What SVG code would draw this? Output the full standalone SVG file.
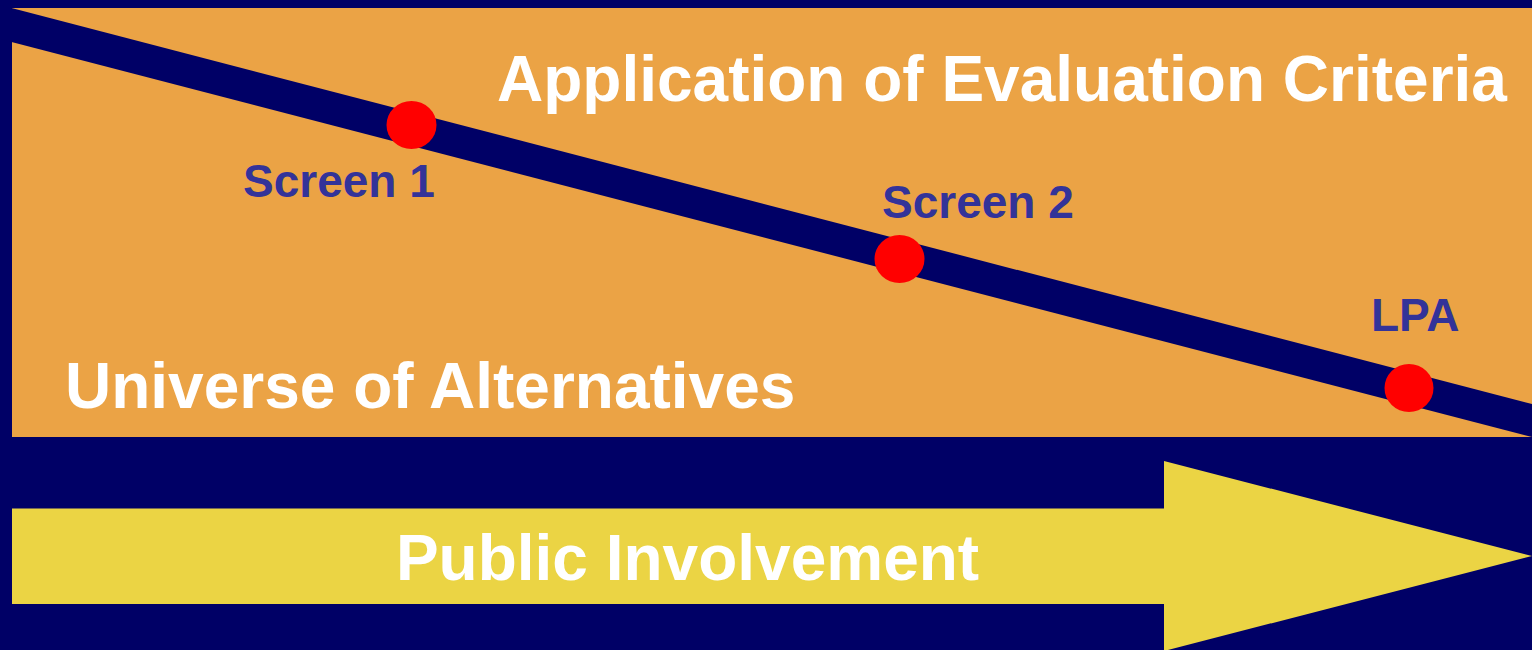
<svg xmlns="http://www.w3.org/2000/svg" width="1532" height="650" viewBox="0 0 1532 650">
  <style>
    .big { font-family: "Liberation Sans", Arial, sans-serif; font-weight: bold; font-size: 64px; fill: #ffffff; }
    .lbl { font-family: "Liberation Sans", Arial, sans-serif; font-weight: bold; font-size: 46px; fill: #333399; }
    .dot { fill: #ff0000; }
  </style>
  <rect x="0" y="0" width="1532" height="650" fill="#000066"/>
  <g id="field">
    <rect x="12" y="8" width="1520" height="429" fill="#eba345"/>
  </g>
  <g id="connectors">
    <polygon points="0,5 1532,404 1532,437 0,39" fill="#000066"/>
  </g>
  <g id="title-criteria">
    <text class="big" x="497" y="101">Application of Evaluation Criteria</text>
  </g>
  <g id="title-universe">
    <text class="big" x="65" y="408">Universe of Alternatives</text>
  </g>
  <g id="screen1">
    <ellipse class="dot" cx="411.5" cy="125" rx="25" ry="24"/>
    <text class="lbl" x="243" y="197">Screen 1</text>
  </g>
  <g id="screen2">
    <ellipse class="dot" cx="899.5" cy="259" rx="25" ry="24"/>
    <text class="lbl" x="882" y="218">Screen 2</text>
  </g>
  <g id="lpa">
    <ellipse class="dot" cx="1409" cy="388" rx="24.5" ry="24"/>
    <text class="lbl" x="1371" y="331">LPA</text>
  </g>
  <g id="public-involvement">
    <polygon points="12,508.5 1164,508.5 1164,461 1532,556 1164,651 1164,604 12,604" fill="#ebd444"/>
    <text class="big" x="687.5" y="580" text-anchor="middle">Public Involvement</text>
  </g>
</svg>
